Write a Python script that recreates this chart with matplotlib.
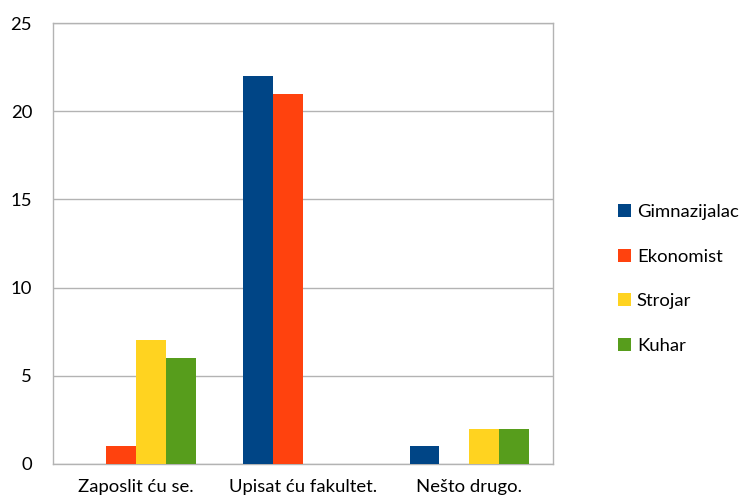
import numpy as np
import matplotlib.pyplot as plt

categories = ["Zaposlit ću se.", "Upisat ću fakultet.", "Nešto drugo."]
series = ["Gimnazijalac", "Ekonomist", "Strojar", "Kuhar"]
gimnazijalac = [0, 22, 1]
ekonomist = [1, 21, 0]
strojar = [7, 0, 2]
kuhar = [6, 0, 2]
values = [gimnazijalac, ekonomist, strojar, kuhar]
colors = ["#004586", "#ff420e", "#ffd320", "#579d1c"]

plt.rcParams['font.family'] = ['Lato', 'DejaVu Sans']

fig = plt.figure(figsize=(7.46, 5.01), dpi=100)
ax = fig.add_axes([0.071, 0.074, 0.670, 0.880])

x = np.arange(len(categories))
w = 0.18
for i, (name, vals) in enumerate(zip(series, values)):
    ax.bar(x + (i - 1.5) * w, vals, width=w, color=colors[i], label=name, zorder=3)

ax.set_xlim(-0.5, 2.5)
ax.set_ylim(0, 25)
ax.set_yticks(range(0, 26, 5))
ax.set_xticks(x)
ax.set_xticklabels(categories)
ax.yaxis.grid(True, color="#b3b3b3", linewidth=1, zorder=0)
for s in ax.spines.values():
    s.set_color("#b3b3b3")
    s.set_linewidth(1)
ax.tick_params(length=0, labelsize=13.3, colors="black", pad=15)
ax.tick_params(axis='x', pad=11)

fig.legend(loc="center left", bbox_to_anchor=(0.829, 0.443), frameon=False,
           handlelength=0.7, handleheight=0.7, handletextpad=0.3,
           labelspacing=1.55, fontsize=13.3, borderpad=0, borderaxespad=0)

plt.savefig("out.png", dpi=100)
plt.close()
